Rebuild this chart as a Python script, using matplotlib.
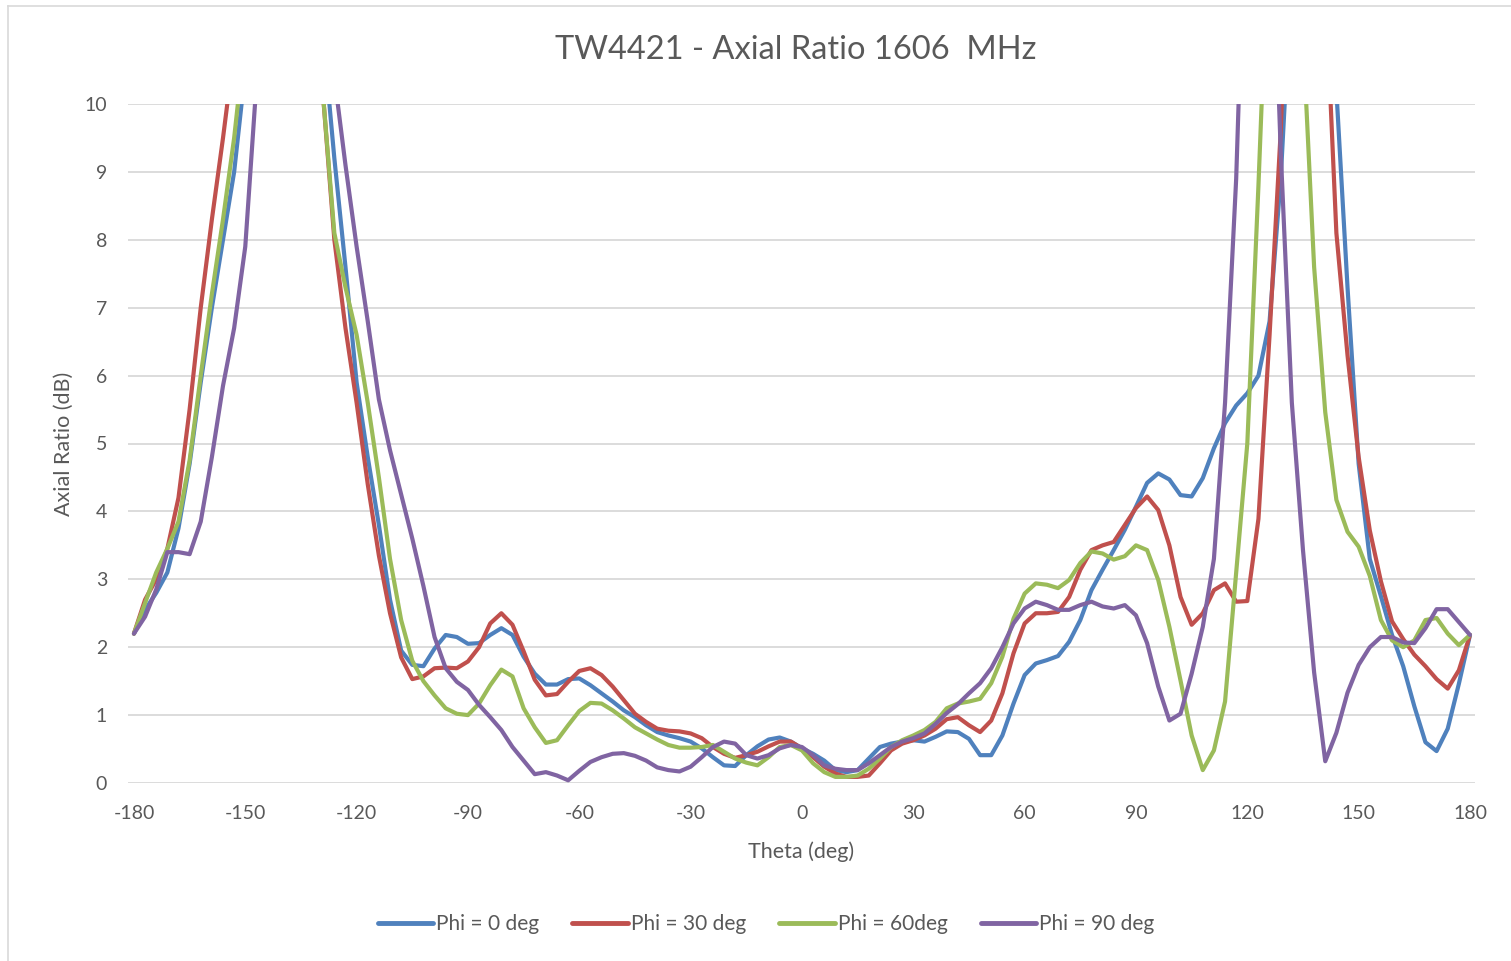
import numpy as np
import matplotlib
matplotlib.use("Agg")
import matplotlib.pyplot as plt
from matplotlib.lines import Line2D

theta = np.arange(-180, 181, 3)

phi0 = [2.2, 2.55, 2.8, 3.1, 3.75, 4.7, 5.9, 7.0, 8.0, 9.0, 10.5, 13, 15, 16, 16, 15, 13, 11, 9.2, 7.6,
        5.9, 4.8, 3.8, 2.7, 1.95, 1.74, 1.72, 1.98, 2.18, 2.15, 2.05, 2.06, 2.18, 2.28, 2.18, 1.86, 1.61, 1.45, 1.45, 1.53,
        1.54, 1.44, 1.32, 1.2, 1.07, 0.97, 0.85, 0.75, 0.70, 0.66, 0.61, 0.51, 0.38, 0.26, 0.25, 0.41, 0.54, 0.64, 0.67, 0.61,
        0.51, 0.43, 0.33, 0.19, 0.16, 0.19, 0.36, 0.53, 0.58, 0.61, 0.63, 0.61, 0.68, 0.76, 0.75, 0.65, 0.41, 0.41, 0.70, 1.17,
        1.59, 1.76, 1.81, 1.87, 2.08, 2.4, 2.84, 3.14, 3.43, 3.73, 4.07, 4.42, 4.56, 4.47, 4.24, 4.22, 4.49, 4.93, 5.3, 5.56,
        5.74, 6.0, 6.8, 8.9, 12, 15, 15, 12.5, 10.2, 7.3, 4.7, 3.3, 2.75, 2.18, 1.72, 1.13, 0.6, 0.47, 0.8, 1.46,
        2.18]

phi30 = [2.2, 2.7, 3.0, 3.45, 4.2, 5.5, 7.0, 8.3, 9.5, 10.8, 13, 15, 17, 17, 16, 14, 12, 10.1, 8.0, 6.7,
         5.6, 4.4, 3.35, 2.5, 1.85, 1.53, 1.57, 1.69, 1.70, 1.69, 1.79, 2.0, 2.35, 2.5, 2.33, 1.94, 1.52, 1.29, 1.31, 1.49,
         1.65, 1.69, 1.59, 1.42, 1.22, 1.02, 0.9, 0.8, 0.77, 0.76, 0.73, 0.66, 0.53, 0.43, 0.37, 0.41, 0.46, 0.54, 0.61, 0.61,
         0.51, 0.38, 0.24, 0.14, 0.09, 0.09, 0.11, 0.29, 0.48, 0.58, 0.63, 0.70, 0.80, 0.94, 0.97, 0.85, 0.75, 0.92, 1.32, 1.91,
         2.35, 2.5, 2.5, 2.52, 2.74, 3.14, 3.43, 3.5, 3.55, 3.8, 4.05, 4.22, 4.02, 3.5, 2.74, 2.33, 2.5, 2.84, 2.94, 2.67,
         2.68, 3.89, 6.6, 9.6, 14, 17, 15, 11.8, 8.1, 6.3, 4.8, 3.72, 2.97, 2.38, 2.12, 1.89, 1.72, 1.53, 1.39, 1.66,
         2.18]

phi60 = [2.2, 2.65, 3.1, 3.45, 3.85, 4.75, 6.0, 7.2, 8.3, 9.5, 11.0, 13, 15, 16, 15, 13, 11.5, 10.1, 8.1, 7.3,
         6.6, 5.6, 4.5, 3.3, 2.4, 1.8, 1.5, 1.29, 1.10, 1.02, 1.0, 1.17, 1.44, 1.67, 1.57, 1.10, 0.82, 0.59, 0.63, 0.85,
         1.06, 1.18, 1.17, 1.07, 0.95, 0.82, 0.73, 0.64, 0.56, 0.52, 0.52, 0.53, 0.56, 0.46, 0.36, 0.30, 0.26, 0.38, 0.53, 0.56,
         0.48, 0.29, 0.16, 0.09, 0.09, 0.11, 0.21, 0.36, 0.53, 0.63, 0.70, 0.78, 0.90, 1.10, 1.17, 1.2, 1.24, 1.47, 1.86, 2.42,
         2.79, 2.94, 2.92, 2.87, 2.99, 3.24, 3.41, 3.38, 3.29, 3.34, 3.5, 3.43, 2.99, 2.3, 1.51, 0.7, 0.19, 0.48, 1.2, 3.1,
         5.0, 8.8, 13, 16, 14, 11, 7.6, 5.46, 4.17, 3.7, 3.48, 3.05, 2.4, 2.1, 2.0, 2.1, 2.4, 2.43, 2.2, 2.03,
         2.18]

phi90 = [2.2, 2.45, 2.85, 3.4, 3.4, 3.37, 3.85, 4.8, 5.85, 6.7, 7.9, 10.3, 13, 15, 16, 16, 15, 13, 10.4, 9.1,
         7.9, 6.8, 5.65, 4.9, 4.25, 3.6, 2.9, 2.15, 1.69, 1.49, 1.37, 1.15, 0.97, 0.78, 0.53, 0.33, 0.13, 0.16, 0.11, 0.04,
         0.18, 0.31, 0.38, 0.43, 0.44, 0.40, 0.33, 0.23, 0.19, 0.17, 0.24, 0.38, 0.53, 0.61, 0.58, 0.41, 0.36, 0.41, 0.51, 0.56,
         0.53, 0.41, 0.26, 0.21, 0.19, 0.19, 0.29, 0.41, 0.53, 0.61, 0.66, 0.73, 0.87, 1.03, 1.16, 1.32, 1.47, 1.69, 2.0, 2.35,
         2.57, 2.67, 2.62, 2.55, 2.55, 2.62, 2.67, 2.6, 2.57, 2.62, 2.47, 2.06, 1.42, 0.92, 1.02, 1.61, 2.3, 3.3, 5.6, 8.9,
         14, 18, 14, 9.3, 5.6, 3.43, 1.63, 0.32, 0.74, 1.33, 1.74, 2.0, 2.15, 2.15, 2.07, 2.06, 2.28, 2.56, 2.56, 2.37,
         2.18]

series_labels = ["Phi = 0 deg", "Phi = 30 deg", "Phi = 60deg", "Phi = 90 deg"]
series_colors = ["#4F81BD", "#C0504D", "#9BBB59", "#8064A2"]
x_ticks = list(range(-180, 181, 30))
y_ticks = list(range(0, 11))
title = "TW4421 - Axial Ratio 1606  MHz"
x_title = "Theta (deg)"
y_title = "Axial Ratio (dB)"

plt.rcParams['font.family'] = ['Lato', 'DejaVu Sans']
txt = "#595959"

fig = plt.figure(figsize=(15.11, 9.61), dpi=100)
fig.patch.set_facecolor("white")
W, H = 1511, 961
ax = fig.add_axes([128 / W, (H - 783) / H, 1347 / W, (783 - 104) / H])

for vals, col in zip([phi0, phi30, phi60, phi90], series_colors):
    ax.plot(theta, vals, color=col, lw=3.0, solid_joinstyle="round", solid_capstyle="round", zorder=3)

ax.set_xlim(-181.6, 181.35)
ax.set_ylim(0, 10)
ax.set_xticks(x_ticks)
ax.set_yticks(y_ticks)
ax.set_xticklabels([str(t) for t in x_ticks])
for s in ax.spines.values():
    s.set_visible(False)
ax.grid(axis="y", color="#D9D9D9", lw=1.3, zorder=0)
ax.tick_params(axis="both", length=0, labelsize=14, labelcolor=txt)
ax.tick_params(axis="x", pad=16)
ax.tick_params(axis="y", pad=15)
ax.set_xlabel(x_title, fontsize=15.5, color=txt, labelpad=14)
ax.set_ylabel(y_title, fontsize=15.5, color=txt, labelpad=8)

fig.text(796 / W, 1 - 50 / H, title, ha="center", va="center", fontsize=23.5, color=txt)

handles = [Line2D([0], [0], color=c, lw=3.5, solid_capstyle="round") for c in series_colors]
fig.legend(handles, series_labels, loc="center", bbox_to_anchor=(766 / W, 1 - 924 / H), ncol=4,
           frameon=False, fontsize=15, handlelength=2.65, handletextpad=0.15, columnspacing=1.6,
           labelcolor=txt)

# outer chart frame (left and top edges visible in the reference)
fig.add_artist(Line2D([8 / W, 8 / W], [0, 1 - 6 / H], color="#D9D9D9", lw=1.2))
fig.add_artist(Line2D([8 / W, 1], [1 - 6 / H, 1 - 6 / H], color="#D9D9D9", lw=1.2))

fig.savefig("out.png", dpi=100)
